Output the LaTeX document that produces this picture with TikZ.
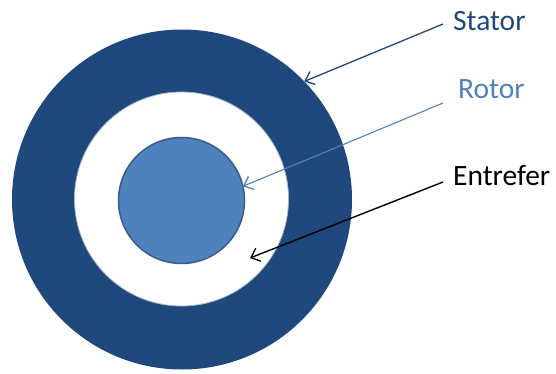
\documentclass[tikz,border=0pt]{standalone}
\usepackage{fontspec}
\setmainfont{Carlito}
\usetikzlibrary{arrows.meta}
\definecolor{statorblue}{HTML}{1F497D}
\definecolor{rotorblue}{HTML}{4F81BD}
\definecolor{rotoredge}{HTML}{385D8A}
\begin{document}
\begin{tikzpicture}[x=1pt,y=-1pt,
  disc/.style={circle,inner sep=0pt,outer sep=0pt},
  lbl/.style={anchor=base west,inner sep=0pt,font=\fontsize{29.5}{32}\selectfont},
  pointer/.style={line width=1.3pt,-{Straight Barb[length=8pt,width=14pt,line width=1.3pt]}}]
\useasboundingbox (0,0) rectangle (556,374);
\node[disc,fill=statorblue,minimum size=340pt] (stator) at (182,199.5) {};
\node[disc,fill=white,draw=statorblue!40,line width=0.8pt,minimum size=214pt] (gap) at (181.5,199) {};
\node[disc,fill=rotorblue,draw=rotoredge,line width=1.5pt,minimum size=126pt] (rotor) at (181.5,200.5) {};
\node[lbl,text=statorblue] (tstator) at (453,31) {Stator};
\node[lbl,text=rotorblue] (trotor) at (458,99) {Rotor};
\node[lbl,text=black] (tentrefer) at (453,185) {Entrefer};
\coordinate (sstart) at (443,24);
\coordinate (rstart) at (443,103);
\coordinate (estart) at (443,182);
\coordinate (etip) at (250,258);
\draw[pointer,statorblue] (sstart) -- (stator.44.6);
\draw[pointer,rotorblue,line width=1.1pt] (rstart) -- (rotor.13);
\draw[pointer,black,line width=1.4pt] (estart) -- (etip);
\end{tikzpicture}
\end{document}
